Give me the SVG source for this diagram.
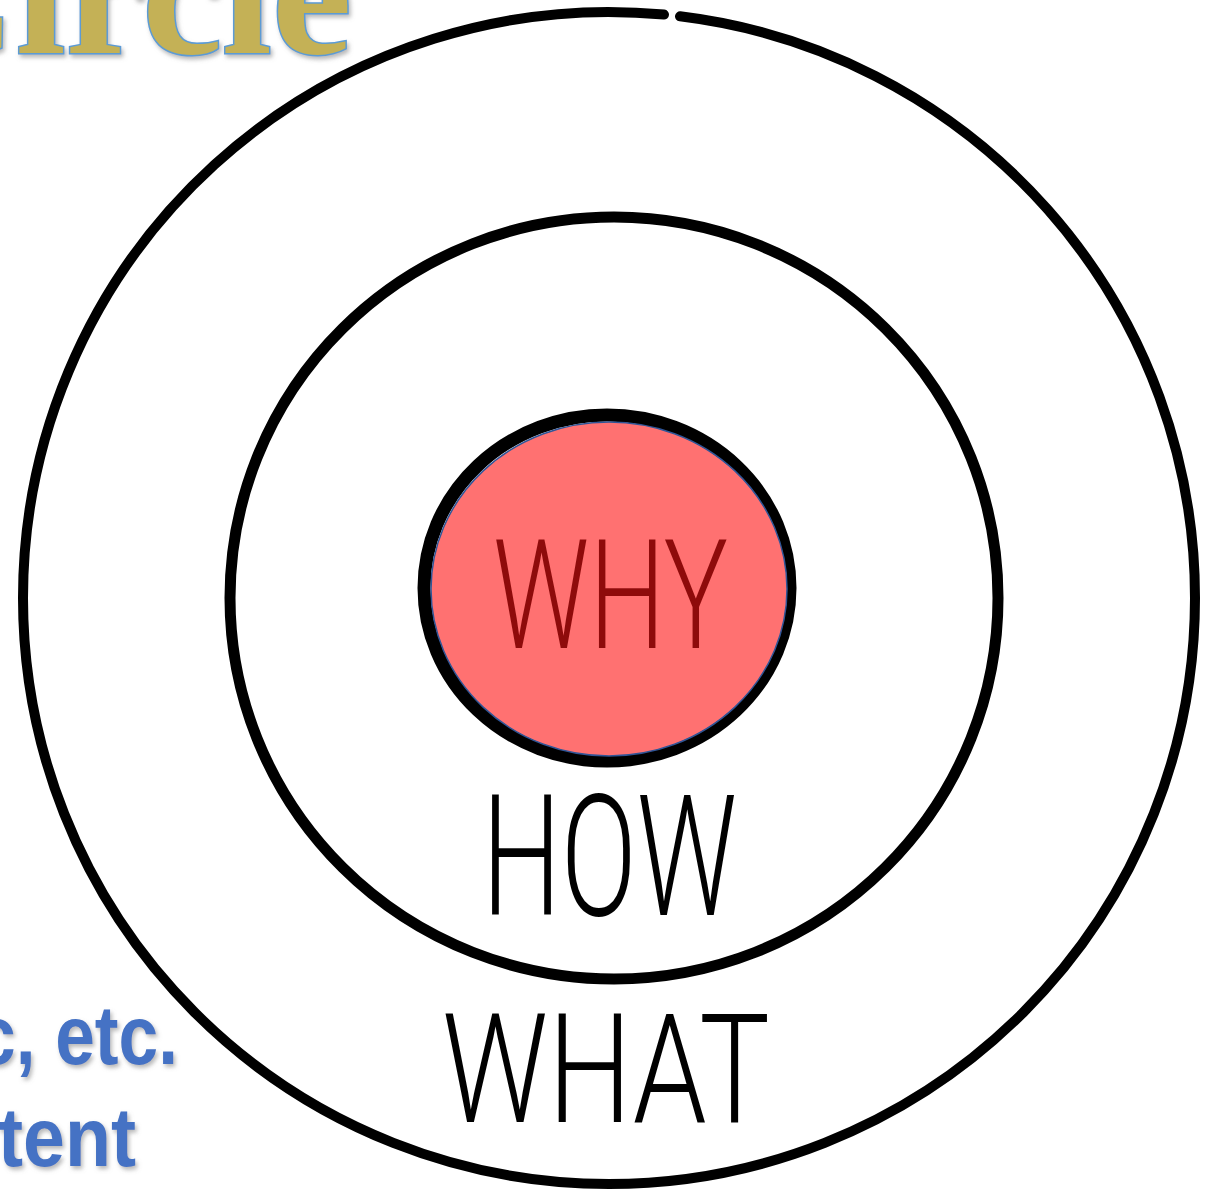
<svg xmlns="http://www.w3.org/2000/svg" width="1220" height="1193" viewBox="0 0 1220 1193">
  <defs>
    <filter id="shadow" x="-10%" y="-10%" width="130%" height="140%">
      <feDropShadow dx="2" dy="3" stdDeviation="2" flood-color="#7f7f7f" flood-opacity="0.55"/>
    </filter>
    <style>
      .ring { fill: none; stroke: #000; stroke-linecap: round; }
      .hand { font-family: Roboto, "Liberation Sans", sans-serif; font-weight: 300; }
      .title { font-family: "Liberation Serif", "DejaVu Serif", serif; font-weight: bold; font-size: 180px; fill: #C4B157; stroke: #5B9BD5; stroke-width: 3; paint-order: stroke; }
      .blue { font-family: "Liberation Sans", Arial, sans-serif; font-weight: bold; font-size: 84px; fill: #4472C4; }
    </style>
  </defs>
  <rect width="1220" height="1193" fill="#fff"/>

  <g id="background-text">
    <text class="title" x="352" y="53" text-anchor="end" filter="url(#shadow)">Circle</text>
    <text class="blue" x="-24" y="1064" textLength="202" lengthAdjust="spacingAndGlyphs" filter="url(#shadow)">c, etc.</text>
    <text class="blue" x="-2" y="1166" textLength="138" lengthAdjust="spacingAndGlyphs" filter="url(#shadow)">tent</text>
  </g>

  <g id="what">
    <path class="ring" stroke-width="10" d="M 680 16.32 A 586 586 0 0 1 1195 598 A 586 586 0 0 1 609 1184 A 586 586 0 0 1 23 598 A 586 586 0 0 1 664 14.59"/>
    <text class="hand" x="442" y="1122" font-size="152" fill="#000" textLength="328" lengthAdjust="spacingAndGlyphs">WHAT</text>
  </g>

  <g id="how">
    <ellipse class="ring" stroke-width="11" cx="614" cy="598" rx="384" ry="381"/>
    <text class="hand" x="482" y="915" font-size="169" fill="#000" textLength="255" lengthAdjust="spacingAndGlyphs">HOW</text>
  </g>

  <g id="why">
    <ellipse class="ring" stroke-width="13" cx="607" cy="588" rx="183" ry="173"/>
    <ellipse cx="609" cy="589" rx="178" ry="167" fill="#FF7171" stroke="#2F5597" stroke-width="1.5"/>
    <text class="hand" x="493" y="648" font-size="152" fill="#8E0B0B" textLength="235" lengthAdjust="spacingAndGlyphs" font-weight="400">WHY</text>
  </g>
</svg>
